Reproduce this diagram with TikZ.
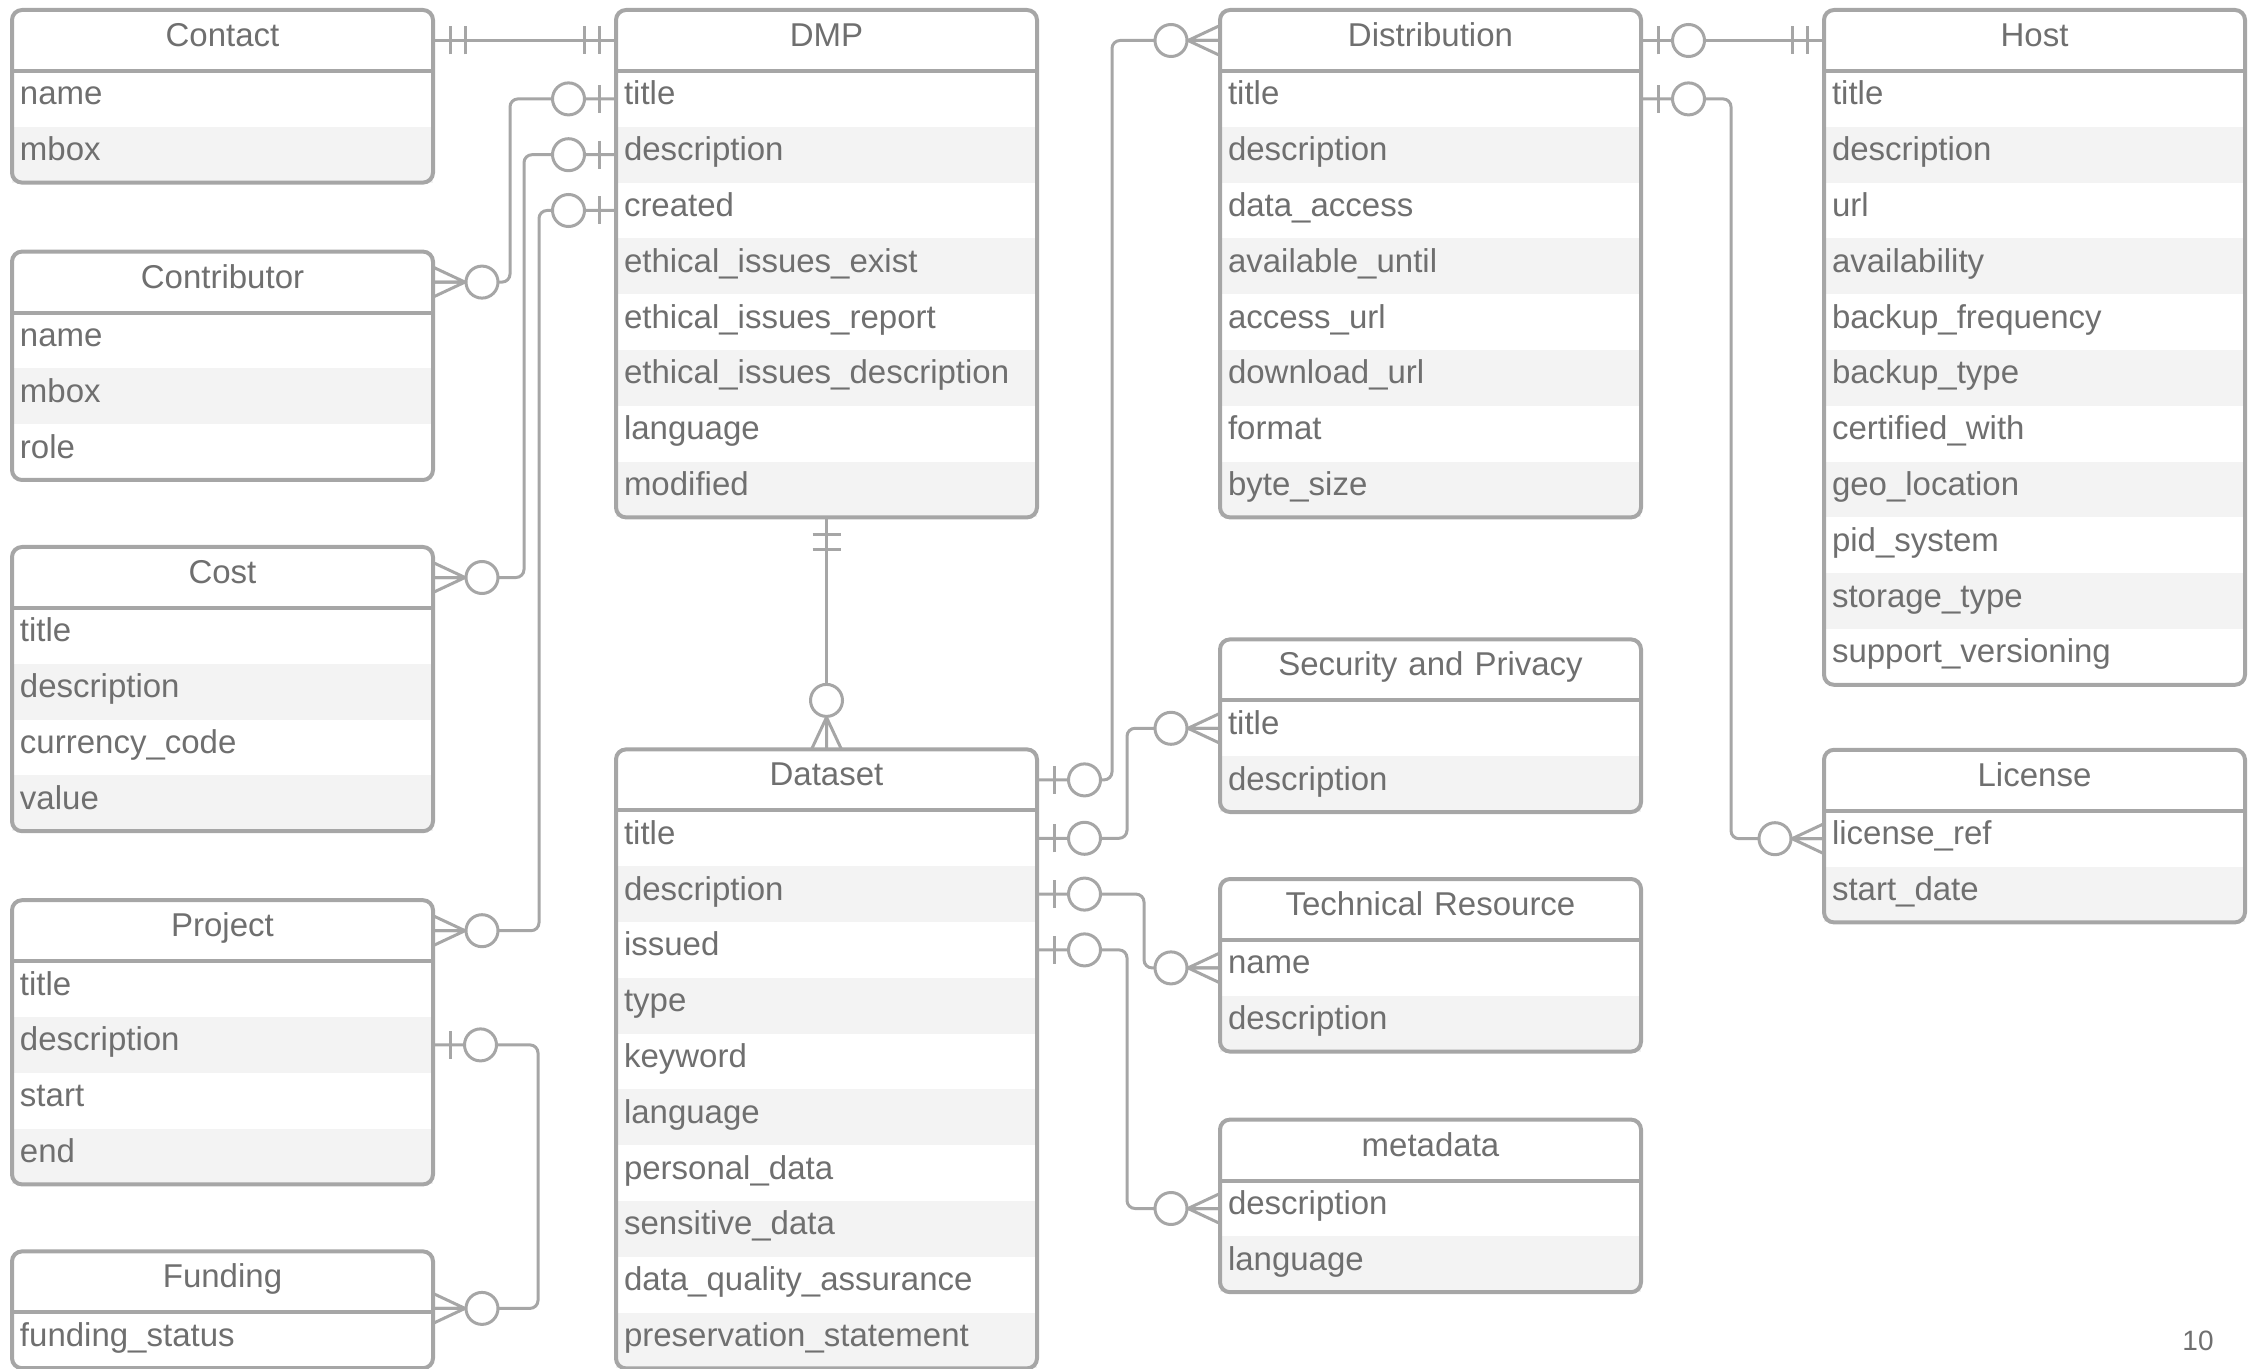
\documentclass[tikz,border=0pt]{standalone}
\usepackage{fontspec}
\setmainfont{Liberation Sans}
\usetikzlibrary{matrix}
\usetikzlibrary{positioning}
\definecolor{linegray}{HTML}{A6A6A6}
\definecolor{textgray}{HTML}{6F6F6F}
\definecolor{rowgray}{HTML}{F3F3F3}
\newcommand{\fieldfont}{\fontsize{16.5}{19}\selectfont}
\tikzset{ertable/.style={matrix of nodes,
                        inner sep=0pt,
                        outer sep=0pt,
                        row sep=0pt,
                        column sep=0pt,
                        nodes={anchor=center, inner xsep=4pt, inner ysep=0pt, outer sep=0pt,
                               text width=202.5pt, minimum height=27.9pt,
                               text height=11pt, text depth=5pt,
                               align=left, text=textgray, font=\fieldfont},
                        row 1/.style={nodes={align=center, minimum height=30.5pt}},
                        row 3/.style={nodes={fill=rowgray}},
                        row 5/.style={nodes={fill=rowgray}},
                        row 7/.style={nodes={fill=rowgray}},
                        row 9/.style={nodes={fill=rowgray}},
                        row 11/.style={nodes={fill=rowgray}}
                        },
        tableframe/.style={draw=linegray, line width=2pt, rounded corners=5pt},
        relation/.style={draw=linegray, line width=1.5pt, rounded corners=4pt},
        oneone/.pic={
            \draw[linegray, line width=1.5pt] (8.5pt,-7pt) -- (8.5pt,7pt) (16pt,-7pt) -- (16pt,7pt);
        },
        zeroone/.pic={
            \draw[linegray, line width=1.5pt] (8.5pt,-7pt) -- (8.5pt,7pt);
            \draw[linegray, line width=1.5pt, fill=white] (23.75pt,0pt) circle[radius=8pt];
        },
        zeromany/.pic={
            \draw[linegray, line width=1.5pt] (0pt,7.5pt) -- (16pt,0pt) -- (0pt,-7.5pt) (0pt,0pt) -- (16pt,0pt);
            \draw[linegray, line width=1.5pt, fill=white] (24.5pt,0pt) circle[radius=8pt];
        },
}

\begin{document}
\begin{tikzpicture}[x=0.5pt, y=-0.5pt]
    \useasboundingbox (0,0) rectangle (2255,1369);

    % LEFT COLUMN
    \matrix[ertable, matrix anchor=north west] (contact) at (12,10) {
        Contact \\
        name \\
        mbox \\
    };

    \matrix[ertable, below=34.5pt of contact] (contributor) {
        Contributor \\
        name \\
        mbox \\
        role \\
    };

    \matrix[ertable, below=33.5pt of contributor] (cost) {
        Cost \\
        title \\
        description \\
        currency\_code \\
        value \\
    };

    \matrix[ertable, below=34.5pt of cost] (project) {
        Project \\
        title \\
        description \\
        start \\
        end \\
    };

    \matrix[ertable, below=33.5pt of project] (funding) {
        Funding \\
        funding\_status \\
    };

    % DMP AND DATASET
    \matrix[ertable, matrix anchor=north west] (dmp) at (616,10) {
        DMP \\
        title \\
        description \\
        created \\
        ethical\_issues\_exist \\
        ethical\_issues\_report \\
        ethical\_issues\_description \\
        language \\
        modified \\
    };

    \matrix[ertable, below=116pt of dmp] (dataset) {
        Dataset \\
        title \\
        description \\
        issued \\
        type \\
        keyword \\
        language \\
        personal\_data \\
        sensitive\_data \\
        data\_quality\_assurance \\
        preservation\_statement \\
    };

    % DISTRIBUTION COLUMN
    \matrix[ertable, matrix anchor=north west] (distribution) at (1220,10) {
        Distribution \\
        title \\
        description \\
        data\_access \\
        available\_until \\
        access\_url \\
        download\_url \\
        format \\
        byte\_size \\
    };

    \matrix[ertable, below=61pt of distribution] (security) {
        Security and Privacy \\
        title \\
        description \\
    };

    \matrix[ertable, below=33.5pt of security] (technical) {
        Technical Resource \\
        name \\
        description \\
    };

    \matrix[ertable, below=34pt of technical] (metadata) {
        metadata \\
        description \\
        language \\
    };

    % HOST COLUMN
    \matrix[ertable, matrix anchor=north west] (host) at (1824,10) {
        Host \\
        title \\
        description \\
        url \\
        availability \\
        backup\_frequency \\
        backup\_type \\
        certified\_with \\
        geo\_location \\
        pid\_system \\
        storage\_type \\
        support\_versioning \\
    };

    \matrix[ertable, below=32.5pt of host] (license) {
        License \\
        license\_ref \\
        start\_date \\
    };

    \foreach \t in {contact,contributor,cost,project,funding,dmp,dataset,distribution,security,technical,metadata,host,license} {
        \draw[tableframe] (\t.north west) rectangle (\t.south east);
        \draw[tableframe] (\t-1-1.south west) -- (\t-1-1.south east);
    }

    % RELATIONS
    \draw[relation] (contact-1-1.east) -- (dmp-1-1.west);
    \draw[relation] (contributor-1-1.east) -- ++(77,0) |- (dmp-2-1.west);
    \draw[relation] (cost-1-1.east) -- ++(91,0) |- (dmp-3-1.west);
    \draw[relation] (project-1-1.east) -- ++(106,0) |- (dmp-4-1.west);
    \draw[relation] (project-3-1.east) -- ++(105,0) |- ([yshift=2pt]funding-1-1.south east);
    \draw[relation] (dmp.south) -- (dataset.north);
    \draw[relation] (dataset-1-1.east) -- ++(75,0) |- (distribution-1-1.west);
    \draw[relation] (dataset-2-1.east) -- ++(90,0) |- (security-2-1.west);
    \draw[relation] (dataset-3-1.east) -- ++(107,0) |- (technical-2-1.west);
    \draw[relation] (dataset-4-1.east) -- ++(90,0) |- (metadata-2-1.west);
    \draw[relation] (distribution-1-1.east) -- (host-1-1.west);
    \draw[relation] (distribution-2-1.east) -- ++(90,0) |- (license-2-1.west);

    \pic at (contact-1-1.east) {oneone};
    \pic[rotate=180] at (dmp-1-1.west) {oneone};
    \pic at (contributor-1-1.east) {zeromany};
    \pic[rotate=180] at (dmp-2-1.west) {zeroone};
    \pic at (cost-1-1.east) {zeromany};
    \pic[rotate=180] at (dmp-3-1.west) {zeroone};
    \pic at (project-1-1.east) {zeromany};
    \pic[rotate=180] at (dmp-4-1.west) {zeroone};
    \pic at (project-3-1.east) {zeroone};
    \pic at ([yshift=2pt]funding-1-1.south east) {zeromany};
    \pic[rotate=-90] at (dmp.south) {oneone};
    \pic[rotate=90] at (dataset.north) {zeromany};
    \pic at (dataset-1-1.east) {zeroone};
    \pic[rotate=180] at (distribution-1-1.west) {zeromany};
    \pic at (dataset-2-1.east) {zeroone};
    \pic[rotate=180] at (security-2-1.west) {zeromany};
    \pic at (dataset-3-1.east) {zeroone};
    \pic[rotate=180] at (technical-2-1.west) {zeromany};
    \pic at (dataset-4-1.east) {zeroone};
    \pic[rotate=180] at (metadata-2-1.west) {zeromany};
    \pic at (distribution-1-1.east) {zeroone};
    \pic[rotate=180] at (host-1-1.west) {oneone};
    \pic at (distribution-2-1.east) {zeroone};
    \pic[rotate=180] at (license-2-1.west) {zeromany};

    \node[text=textgray, font=\fontsize{14}{16}\selectfont] (pagenum) at (2198,1341) {10};

\end{tikzpicture}
\end{document}
